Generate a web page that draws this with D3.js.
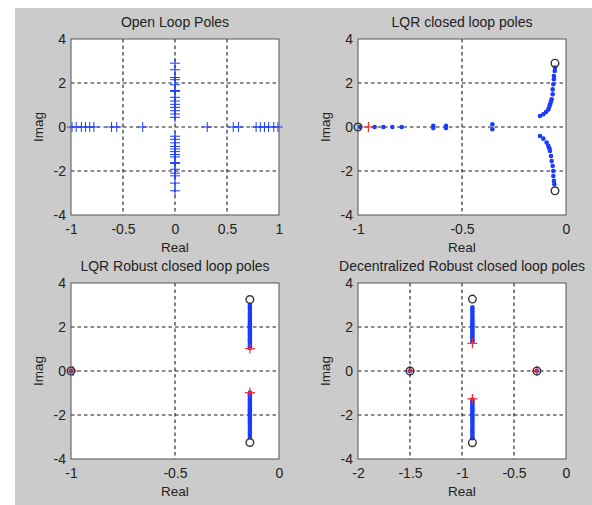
<!DOCTYPE html>
<html>
<head>
<meta charset="utf-8">
<script src="https://cdn.jsdelivr.net/npm/d3@7"></script>
<style>
  body { margin: 0; background: #fff; }
  text { font-family: "Liberation Sans", Arial, sans-serif; fill: #222; }
</style>
</head>
<body>
<div id="container"></div>
<script>
"use strict";

// ---- data ----
var yTicks = [-4, -2, 0, 2, 4];

// open loop poles (all '+')
var olReal = [-0.99, -0.95, -0.90, -0.86, -0.82, -0.78, -0.61, -0.56, -0.31, 0.31, 0.56, 0.61, 0.78, 0.82, 0.86, 0.90, 0.95, 0.99];
var olImag = [2.9, 2.6, 2.25, 2.15, 1.92, 1.66, 1.62, 1.35, 1.18, 1.03, 0.89, 0.74, 0.59, 0.44,
              -0.42, -0.56, -0.72, -0.88, -1.0, -1.12, -1.25, -1.36, -1.62, -1.66, -1.92, -2.1, -2.22, -2.55, -2.9];

// LQR closed loop poles
var lqrAxisRe = [-0.99, -0.92, -0.878, -0.835, -0.79, -0.638, -0.638, -0.577, -0.577, -0.354, -0.354];
var lqrAxisIm = [0, 0, 0, 0, 0, 0.05, -0.05, 0.05, -0.05, 0.12, -0.1];
var lqrUpRe = [-0.125, -0.109, -0.096, -0.085, -0.08, -0.077, -0.072, -0.069, -0.064, -0.064, -0.061, -0.058, -0.058, -0.054, -0.053];
var lqrUpIm = [0.5, 0.58, 0.68, 0.8, 0.92, 1.03, 1.15, 1.26, 1.49, 1.71, 1.94, 2.17, 2.32, 2.55, 2.7];
var lqrLoRe = [-0.125, -0.109, -0.093, -0.085, -0.08, -0.077, -0.072, -0.069, -0.064, -0.061, -0.061, -0.058, -0.056];
var lqrLoIm = [-0.41, -0.53, -0.71, -0.86, -0.97, -1.09, -1.32, -1.55, -1.77, -2.0, -2.23, -2.45, -2.6];
var lqrStartRe = [-0.95];
var lqrStartIm = [0];
var lqrEndRe = [-1.0, -0.053, -0.053];
var lqrEndIm = [0, 2.9, -2.9];

// LQR robust closed loop poles
var robRe = -0.14;
var robUpIm = [1.05, 1.12, 1.2, 1.28, 1.36, 1.44, 1.52, 1.6, 1.68, 1.76, 1.84, 1.92, 2.0, 2.08, 2.16, 2.25, 2.34, 2.44, 2.55, 2.66, 2.78, 2.9, 3.0];
var robLoIm = [-0.98, -1.06, -1.14, -1.22, -1.3, -1.38, -1.46, -1.54, -1.62, -1.7, -1.78, -1.86, -1.94, -2.02, -2.1, -2.18, -2.27, -2.36, -2.46, -2.57, -2.68, -2.8, -2.9, -3.0];
var robStartRe = [-0.99, -0.14, -0.14];
var robStartIm = [0, 1.02, -0.98];
var robEndRe = [-1.0, -0.14, -0.14];
var robEndIm = [0, 3.25, -3.25];

// decentralized robust closed loop poles
var decRe = -0.9;
var decUpIm = [1.33, 1.4, 1.48, 1.56, 1.64, 1.72, 1.8, 1.88, 1.96, 2.04, 2.12, 2.2, 2.3, 2.4, 2.5, 2.6, 2.7, 2.8, 2.9];
var decLoIm = [-1.3, -1.38, -1.46, -1.54, -1.62, -1.7, -1.78, -1.86, -1.94, -2.02, -2.1, -2.2, -2.3, -2.4, -2.5, -2.6, -2.7, -2.8, -2.9, -3.0, -3.06];
var decRealRe = [-1.5, -0.28];
var decStartRe = [-1.5, -0.28, -0.9, -0.9];
var decStartIm = [0, 0, 1.26, -1.27];
var decEndRe = [-1.5, -0.28, -0.9, -0.9];
var decEndIm = [0, 0, 3.27, -3.26];

function zip(re, im) {
    return re.map(function (r, i) { return [r, im[i]]; });
}
function onLine(re, ims) {
    return ims.map(function (v) { return [re, v]; });
}

var panels = [
    {
        title: "Open Loop Poles", left: 71, top: 39,
        xDomain: [-1, 1], xTicks: [-1, -0.5, 0, 0.5, 1],
        plus: olReal.map(function (r) { return [r, 0]; }).concat(olImag.map(function (v) { return [0, v]; })),
        dots: [], red: [], rings: []
    },
    {
        title: "LQR closed loop poles", left: 358, top: 39,
        xDomain: [-1, 0], xTicks: [-1, -0.5, 0],
        plus: [],
        dots: zip(lqrAxisRe, lqrAxisIm).concat(zip(lqrUpRe, lqrUpIm), zip(lqrLoRe, lqrLoIm)),
        red: zip(lqrStartRe, lqrStartIm),
        rings: zip(lqrEndRe, lqrEndIm)
    },
    {
        title: "LQR Robust closed loop poles", left: 71, top: 283,
        xDomain: [-1, 0], xTicks: [-1, -0.5, 0],
        plus: [],
        dots: [[-1.0, 0]].concat(onLine(robRe, robUpIm), onLine(robRe, robLoIm)),
        red: zip(robStartRe, robStartIm),
        rings: zip(robEndRe, robEndIm)
    },
    {
        title: "Decentralized Robust closed loop poles", left: 358, top: 283,
        xDomain: [-2, 0], xTicks: [-2, -1.5, -1, -0.5, 0],
        plus: [],
        dots: decRealRe.map(function (r) { return [r, 0]; }).concat(onLine(decRe, decUpIm), onLine(decRe, decLoIm)),
        red: zip(decStartRe, decStartIm),
        rings: zip(decEndRe, decEndIm)
    }
];

var width = 592, height = 505;
var pw = 208, ph = 176;
var blue = "#1a3cff", red = "#ff2a2a";

var svg = d3.select("#container").append("svg").attr("width", width).attr("height", height);
svg.append("rect").attr("x", 15).attr("y", 8).attr("width", width - 15).attr("height", height - 8).attr("fill", "#cbcbcb");

panels.forEach(function (p) {
    var x = d3.scaleLinear().domain(p.xDomain).range([0, pw]);
    var y = d3.scaleLinear().domain([-4, 4]).range([ph, 0]);
    var g = svg.append("g").attr("transform", "translate(" + p.left + "," + p.top + ")");

    g.append("rect").attr("width", pw).attr("height", ph).attr("fill", "#fff");

    // grid
    g.selectAll("line.vg").data(p.xTicks.slice(1, -1)).enter().append("line")
        .attr("x1", function (d) { return x(d); }).attr("x2", function (d) { return x(d); })
        .attr("y1", 0).attr("y2", ph)
        .attr("stroke", "#1a1a1a").attr("stroke-width", 1.1).attr("stroke-dasharray", "3.5,3");
    g.selectAll("line.hg").data(yTicks.slice(1, -1)).enter().append("line")
        .attr("y1", function (d) { return y(d); }).attr("y2", function (d) { return y(d); })
        .attr("x1", 0).attr("x2", pw)
        .attr("stroke", "#1a1a1a").attr("stroke-width", 1.1).attr("stroke-dasharray", "3.5,3");

    // axes
    var fmt = function (d) { return String(d); };
    var ax = g.append("g").attr("transform", "translate(0," + ph + ")")
        .call(d3.axisBottom(x).tickValues(p.xTicks).tickSize(0).tickPadding(9).tickFormat(fmt));
    var ay = g.append("g")
        .call(d3.axisLeft(y).tickValues(yTicks).tickSize(0).tickPadding(5).tickFormat(fmt));
    [ax, ay].forEach(function (a) {
        a.select(".domain").remove();
        a.selectAll("text").style("font-size", "14px").style("font-family", "'Liberation Sans', Arial, sans-serif").attr("fill", "#222");
    });

    // markers
    g.selectAll("path.plus").data(p.plus).enter().append("path")
        .attr("transform", function (d) { return "translate(" + x(d[0]) + "," + y(d[1]) + ")"; })
        .attr("d", "M-5,0H5M0,-5V5").attr("stroke", blue).attr("stroke-width", 1).attr("fill", "none");
    g.selectAll("circle.dot").data(p.dots).enter().append("circle")
        .attr("cx", function (d) { return x(d[0]); }).attr("cy", function (d) { return y(d[1]); })
        .attr("r", 2.3).attr("fill", blue);
    g.selectAll("path.red").data(p.red).enter().append("path")
        .attr("transform", function (d) { return "translate(" + x(d[0]) + "," + y(d[1]) + ")"; })
        .attr("d", "M-5,0H5M0,-5V5").attr("stroke", red).attr("stroke-width", 1.2).attr("fill", "none");
    g.selectAll("circle.ring").data(p.rings).enter().append("circle")
        .attr("cx", function (d) { return x(d[0]); }).attr("cy", function (d) { return y(d[1]); })
        .attr("r", 3.8).attr("fill", "none").attr("stroke", "#333").attr("stroke-width", 1.4);

    // box
    g.append("rect").attr("width", pw).attr("height", ph).attr("fill", "none").attr("stroke", "#555").attr("stroke-width", 1);

    // labels
    g.append("text").attr("x", pw / 2).attr("y", -12).attr("text-anchor", "middle").style("font-size", "14px").text(p.title);
    g.append("text").attr("x", pw / 2).attr("y", ph + 37).attr("text-anchor", "middle").style("font-size", "13.5px").text("Real");
    g.append("text").attr("transform", "translate(-28," + ph / 2 + ") rotate(-90)").attr("text-anchor", "middle").style("font-size", "13.5px").text("Imag");
});
</script>
</body>
</html>
